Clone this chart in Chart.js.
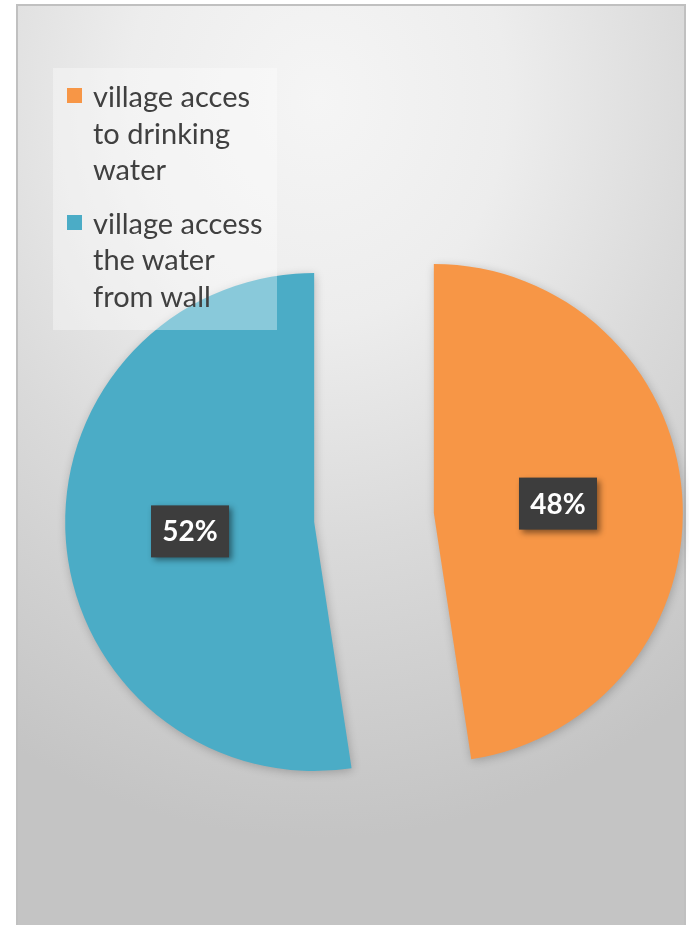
<!DOCTYPE html>
<html>
<head>
<meta charset="utf-8">
<script src="https://cdn.jsdelivr.net/npm/chart.js@4.4.1/dist/chart.umd.min.js"></script>
<style>
  html, body { margin: 0; padding: 0; background: #ffffff; }
  body { width: 689px; height: 925px; position: relative; overflow: hidden; }
  #frame {
    position: absolute; left: 16px; top: 4px; width: 666px; height: 925px;
    border: 2px solid #c0c0c0; border-bottom: none;
    background: radial-gradient(ellipse 95% 80% at 45% 10%, #f5f5f5 0%, #ededed 30%, #dadada 60%, #c4c4c4 100%);
  }
  #wrap { position: absolute; left: 0; top: 0; width: 689px; height: 925px; }
  #legend {
    position: absolute; left: 53px; top: 68px; width: 224px; height: 262px;
    background: rgba(255,255,255,0.35);
    font-family: Lato, "Open Sans", sans-serif; font-size: 29px; line-height: 36.5px; color: #404040;
    box-sizing: border-box; padding: 10px 0 0 14px;
  }
  .item { display: flex; align-items: flex-start; margin-bottom: 17px; }
  .box { width: 15px; height: 15px; flex: none; margin: 10px 11px 0 0; }
</style>
</head>
<body>
<div id="frame"></div>
<div id="wrap"><canvas id="chart"></canvas></div>
<div id="legend"></div>
<script>
const categories = ['village acces to drinking water', 'village access the water from wall'];
const legendLines = [['village acces', 'to drinking', 'water'], ['village access', 'the water', 'from wall']];
const shares = [47.6, 52.4];
const colors = ['#F79646', '#4BACC6'];
const explodePx = 60;

// legend drawn as html so it can sit over the pie with a translucent box
const legend = document.getElementById('legend');
legendLines.forEach((lines, i) => {
  const row = document.createElement('div');
  row.className = 'item';
  const sw = document.createElement('span');
  sw.className = 'box';
  sw.style.background = colors[i];
  const txt = document.createElement('span');
  txt.innerHTML = lines.join('<br>');
  row.appendChild(sw);
  row.appendChild(txt);
  legend.appendChild(row);
});

// built-in offset bends the slice edges, so pull the slices apart by hand
class ExplodedPie extends Chart.PieController {
  draw() {
    const ctx = this.chart.ctx;
    this._cachedMeta.data.forEach(arc => {
      const mid = (arc.startAngle + arc.endAngle) / 2;
      ctx.save();
      ctx.translate(Math.cos(mid) * explodePx, Math.sin(mid) * explodePx);
      arc.draw(ctx, this.chart.chartArea);
      ctx.restore();
    });
  }
}
ExplodedPie.id = 'explodedPie';
Chart.register(ExplodedPie);

const sliceShadow = {
  id: 'sliceShadow',
  beforeDatasetsDraw(chart) {
    const ctx = chart.ctx;
    ctx.save();
    ctx.shadowColor = 'rgba(0,0,0,0.22)';
    ctx.shadowBlur = 10;
    ctx.shadowOffsetX = 1;
    ctx.shadowOffsetY = 2;
  },
  afterDatasetsDraw(chart) {
    chart.ctx.restore();
  }
};

const pctLabels = {
  id: 'pctLabels',
  afterDatasetsDraw(chart) {
    const ctx = chart.ctx;
    const meta = chart.getDatasetMeta(0);
    const total = shares.reduce((a, b) => a + b, 0);
    meta.data.forEach((arc, i) => {
      const p = arc.getProps(['x', 'y', 'startAngle', 'endAngle', 'outerRadius']);
      const mid = (p.startAngle + p.endAngle) / 2;
      const d = explodePx + p.outerRadius / 2;
      const x = p.x + Math.cos(mid) * d;
      const y = p.y + Math.sin(mid) * d;
      const text = Math.round(shares[i] / total * 100) + '%';
      ctx.save();
      ctx.shadowColor = 'rgba(0,0,0,0.45)';
      ctx.shadowBlur = 6;
      ctx.shadowOffsetX = 3;
      ctx.shadowOffsetY = 3;
      ctx.fillStyle = '#3d3d3d';
      ctx.fillRect(x - 39, y - 26, 78, 52);
      ctx.restore();
      ctx.save();
      ctx.fillStyle = '#ffffff';
      ctx.font = 'bold 28px Lato, "Open Sans", sans-serif';
      ctx.textAlign = 'center';
      ctx.textBaseline = 'middle';
      ctx.fillText(text, x, y + 1);
      ctx.restore();
    });
  }
};

new Chart(document.getElementById('chart'), {
  type: 'explodedPie',
  data: {
    labels: categories,
    datasets: [{
      data: shares,
      backgroundColor: colors,
      borderWidth: 0
    }]
  },
  options: {
    responsive: true,
    maintainAspectRatio: false,
    animation: false,
    radius: 249,
    layout: { padding: { left: 59, right: 0, top: 110, bottom: 0 } },
    plugins: {
      legend: { display: false },
      tooltip: { enabled: false }
    }
  },
  plugins: [sliceShadow, pctLabels]
});
</script>
</body>
</html>
